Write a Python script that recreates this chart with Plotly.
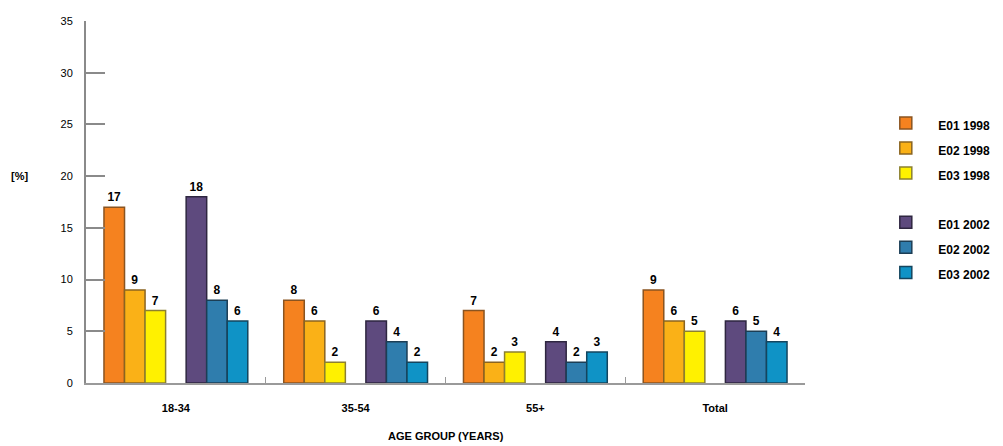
import plotly.graph_objects as go

categories = ["18-34", "35-54", "55+", "Total"]
e01_1998 = [17, 8, 7, 9]
e02_1998 = [9, 6, 2, 6]
e03_1998 = [7, 2, 3, 5]
e01_2002 = [18, 6, 4, 6]
e02_2002 = [8, 4, 2, 5]
e03_2002 = [6, 2, 3, 4]
y_ticks = [0, 5, 10, 15, 20, 25, 30, 35]

series = [
    ("E01 1998", e01_1998, "#F5821F", "#8A5420", "1998"),
    ("E02 1998", e02_1998, "#FAB117", "#8A6420", "1998"),
    ("E03 1998", e03_1998, "#FFF100", "#8C8030", "1998"),
    (None, None, None, None, None),
    ("E01 2002", e01_2002, "#5E4A7E", "#2E2640", "2002"),
    ("E02 2002", e02_2002, "#2F7DAD", "#1C3E55", "2002"),
    ("E03 2002", e03_2002, "#0F93C6", "#14455E", "2002"),
]

FONT = "Liberation Sans"
fig = go.Figure()
for name, vals, col, line, grp in series:
    if name is None:
        fig.add_trace(go.Bar(x=categories, y=[None] * len(categories),
                             showlegend=False, hoverinfo="skip",
                             marker=dict(color="rgba(0,0,0,0)")))
        continue
    fig.add_trace(go.Bar(
        x=categories, y=vals,
        name=f'<span style="font-size:12px"><b>{name}</b></span>',
        legendgroup=grp,
        marker=dict(color=col, line=dict(color=line, width=1.5)),
        text=[f"<b>{v}</b>" for v in vals], textposition="outside",
        textfont=dict(family=FONT, size=12, color="black"),
        cliponaxis=False,
    ))

fig.update_layout(
    width=1003, height=446,
    margin=dict(l=78, r=206, t=7, b=71),
    paper_bgcolor="white", plot_bgcolor="white",
    barmode="group", bargap=0.2, bargroupgap=0,
    font=dict(family=FONT, size=11, color="black"),
    legend=dict(x=1.095, xanchor="left", y=0.767, yanchor="top",
                traceorder="grouped", tracegroupgap=24,
                font=dict(family=FONT, size=17, color="black"),
                itemwidth=55, bgcolor="rgba(0,0,0,0)"),
    xaxis=dict(showline=True, linecolor="#9a9a9a", linewidth=2,
               ticks="inside", ticklen=6, tickcolor="#9a9a9a", tickwidth=1,
               tickson="boundaries", ticklabelstandoff=14,
               tickfont=dict(family=FONT, size=11, color="black"),
               tickprefix="<b>", ticksuffix="</b>", showgrid=False),
    yaxis=dict(range=[0, 35], tickvals=y_ticks, showline=True,
               linecolor="#8a8a8a", linewidth=2, ticks="inside", ticklen=19,
               tickcolor="#8a8a8a", tickwidth=2, ticklabelstandoff=9,
               tickfont=dict(family=FONT, size=11, color="black"),
               tickprefix="<b>", ticksuffix="</b>", showgrid=False,
               zeroline=False),
    annotations=[
        dict(text="<b>[%]</b>", xref="paper", yref="y", x=-0.092, y=20,
             xanchor="center", yanchor="middle", showarrow=False,
             font=dict(family=FONT, size=11, color="black")),
        dict(text="<b>AGE GROUP (YEARS)</b>", xref="paper", yref="paper",
             x=0.5, y=-0.147, xanchor="center", yanchor="middle",
             showarrow=False, font=dict(family=FONT, size=11, color="black")),
    ],
)

fig.write_html("out.html")
